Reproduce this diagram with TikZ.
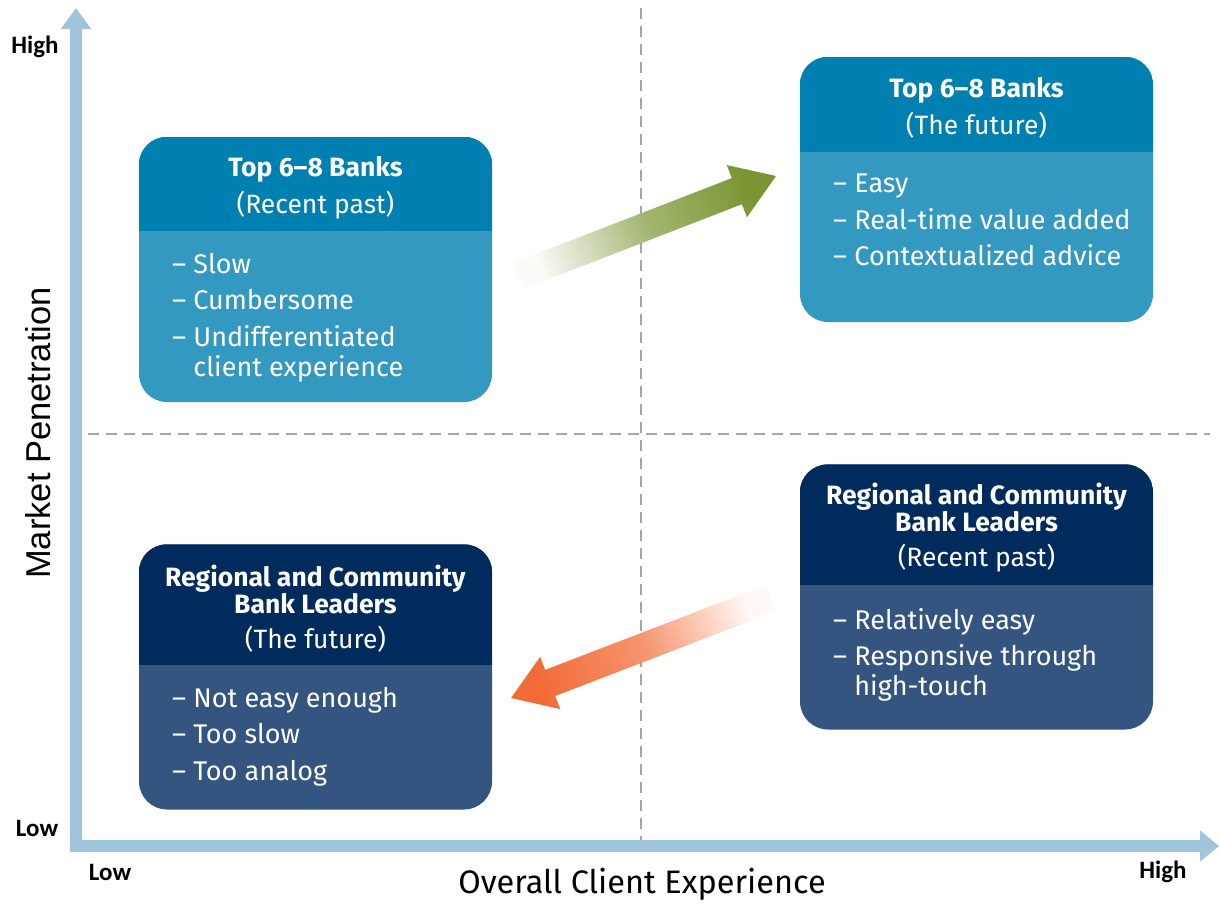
\documentclass[tikz,border=0pt]{standalone}
\usepackage{fontspec}
\setmainfont{Fira Sans}
\newfontfamily\axisfont{Carlito}
\newfontfamily\arialfont{Liberation Sans}
\usetikzlibrary{calc,arrows.meta}
\definecolor{axisblue}{RGB}{160,196,220}
\definecolor{gridgray}{RGB}{166,166,166}
\definecolor{tophead}{RGB}{0,128,176}
\definecolor{topbody}{RGB}{51,153,192}
\definecolor{reghead}{RGB}{0,43,92}
\definecolor{regbody}{RGB}{52,85,127}
\definecolor{upgreen}{RGB}{122,149,50}
\definecolor{downorange}{RGB}{242,107,54}

\begin{document}
\begin{tikzpicture}[x=1pt, y=-1pt,
    boxshape/.style={minimum width=353pt, minimum height=265pt, inner sep=0pt, rounded corners=28pt},
    headtext/.style={text=white, align=center, inner sep=0pt, font=\fontsize{26.5}{27}\selectfont},
    bodytext/.style={text=white, align=left, inner sep=0pt, anchor=north west, font=\fontsize{27}{30}\selectfont},
    endlabel/.style={font=\axisfont\bfseries\fontsize{25}{30}\selectfont},
    grid line/.style={gridgray, line width=1.3pt, dash pattern=on 11pt off 7pt}]
\useasboundingbox (0,0) rectangle (1220,903);
% quadrant lines
\draw[grid line] (641,8) -- (641,840);
\draw[grid line] (88,434) -- (1210,434);
% axes
\coordinate (origin) at (76,846);
\coordinate (ytop) at (76,8);
\coordinate (xend) at (1219,846);
\draw[axisblue, line width=12pt, -{Triangle[width=29pt,length=21pt]}] (76,852) -- (ytop);
\draw[axisblue, line width=12pt, -{Triangle[width=30pt,length=19pt]}] (70,846) -- (xend);
\node[endlabel] (yhigh) at (35,47) {High};
\node[endlabel] (ylow) at (37,828) {Low};
\node[endlabel] (xlow) at (110,872) {Low};
\node[endlabel] (xhigh) at (1163,872) {High};
\node[rotate=90, font=\arialfont\fontsize{34.5}{36}\selectfont] (ylabel) at (38,433) {Market Penetration};
\node[font=\fontsize{32.5}{34}\selectfont] (xlabel) at (642,884) {Overall Client Experience};
% boxes
\node[boxshape, fill=topbody] (tlbox) at (315.5,269.5) {};
\node[boxshape, fill=topbody] (trbox) at (976.5,189.5) {};
\node[boxshape, fill=regbody] (brbox) at (976.5,597) {};
\node[boxshape, fill=regbody] (blbox) at (315.5,677) {};
\scope
\clip[rounded corners=28pt] (tlbox.north west) rectangle (tlbox.south east);
\fill[tophead] (tlbox.north west) rectangle ++(353,94);
\endscope
\scope
\clip[rounded corners=28pt] (trbox.north west) rectangle (trbox.south east);
\fill[tophead] (trbox.north west) rectangle ++(353,95);
\endscope
\scope
\clip[rounded corners=28pt] (brbox.north west) rectangle (brbox.south east);
\fill[reghead] (brbox.north west) rectangle ++(353,121);
\endscope
\scope
\clip[rounded corners=28pt] (blbox.north west) rectangle (blbox.south east);
\fill[reghead] (blbox.north west) rectangle ++(353,121);
\endscope
% box texts
\node[headtext] (tlhead) at (315.5,188) {\textbf{Top 6–8 Banks}\\[8pt](Recent past)};
\node[bodytext] (tlbody) at (172,253) {– Slow\\[6.5pt]– Cumbersome\\[6.5pt]– Undifferentiated\\\hphantom{– }client experience};
\node[headtext] (trhead) at (976.5,108) {\textbf{Top 6–8 Banks}\\[8pt](The future)};
\node[bodytext] (trbody) at (833,174) {– Easy\\[6.5pt]– Real-time value added\\[6.5pt]– Contextualized advice};
\node[headtext] (brhead) at (976.5,528) {\textbf{Regional and Community}\\\textbf{Bank Leaders}\\[8pt](Recent past)};
\node[bodytext] (brbody) at (833,608) {– Relatively easy\\[6.5pt]– Responsive through\\\hphantom{– }high-touch};
\node[headtext] (blhead) at (315.5,609) {\textbf{Regional and Community}\\\textbf{Bank Leaders}\\[8pt](The future)};
\node[bodytext] (blbody) at (172,687) {– Not easy enough\\[6.5pt]– Too slow\\[6.5pt]– Too analog};
% shift arrows
\coordinate (gtail) at (518,276);
\coordinate (gtip) at (776,176);
\coordinate (gbase) at ($(gtip)!42pt!(gtail)$);
\shade[top color=upgreen!4, bottom color=upgreen, middle color=upgreen!68, shading angle=111]
    ($(gtail)!14pt!90:(gtip)$) -- ($(gbase)!14pt!-90:(gtail)$) -- ($(gbase)!28pt!-90:(gtail)$) -- (gtip)
    -- ($(gbase)!28pt!90:(gtail)$) -- ($(gbase)!14pt!90:(gtail)$) -- ($(gtail)!14pt!-90:(gtip)$) -- cycle;
\coordinate (otail) at (771,598);
\coordinate (otip) at (511,698);
\coordinate (obase) at ($(otip)!42pt!(otail)$);
\shade[top color=downorange!4, bottom color=downorange, middle color=downorange!72, shading angle=-69]
    ($(otail)!14pt!90:(otip)$) -- ($(obase)!14pt!-90:(otail)$) -- ($(obase)!28pt!-90:(otail)$) -- (otip)
    -- ($(obase)!28pt!90:(otail)$) -- ($(obase)!14pt!90:(otail)$) -- ($(otail)!14pt!-90:(otip)$) -- cycle;
\end{tikzpicture}
\end{document}
